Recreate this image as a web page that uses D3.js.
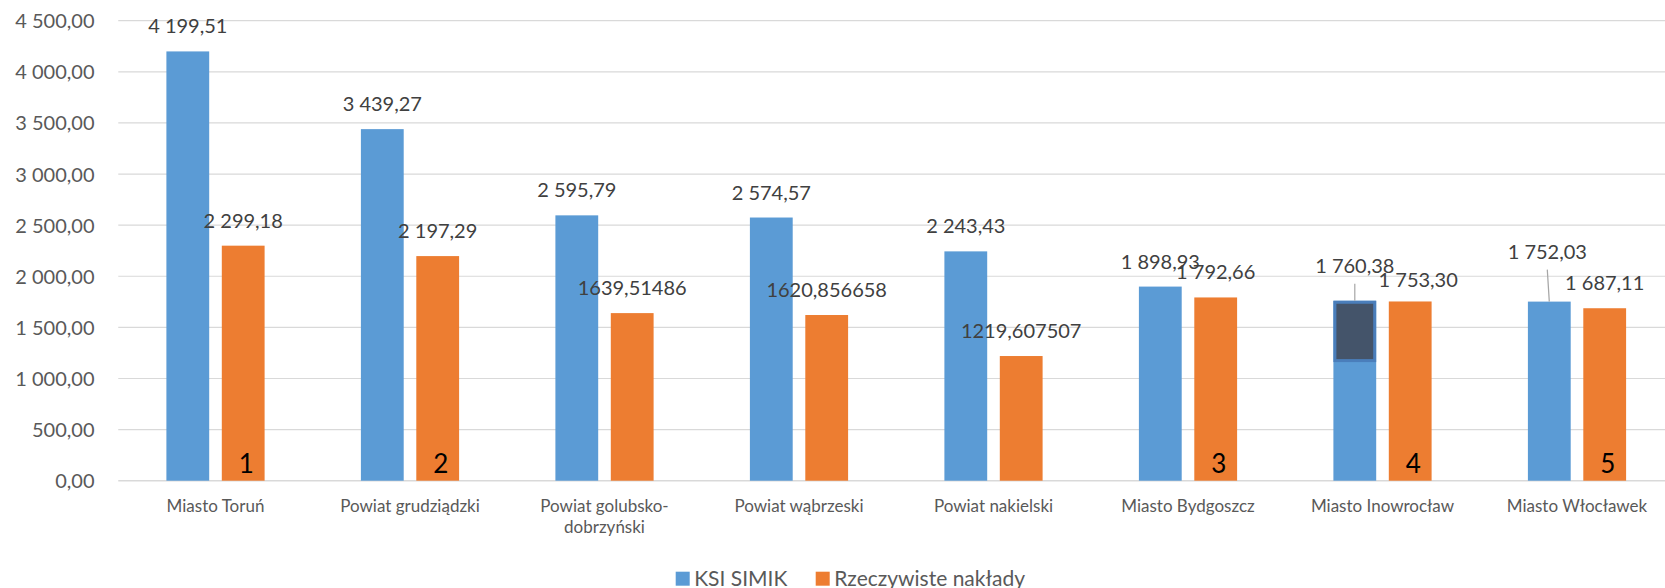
<!DOCTYPE html>
<html>
<head>
<meta charset="utf-8">
<script src="https://cdn.jsdelivr.net/npm/d3@7"></script>
<style>
  html, body { margin: 0; padding: 0; background: #fff; }
  svg { display: block; font-family: Lato, "Open Sans", sans-serif; }
</style>
</head>
<body>
<svg id="chart" width="1665" height="588"></svg>
<script>
// ---- data ----
const categories = ["Miasto Toruń", "Powiat grudziądzki", "Powiat golubsko-dobrzyński", "Powiat wąbrzeski",
  "Powiat nakielski", "Miasto Bydgoszcz", "Miasto Inowrocław", "Miasto Włocławek"];
const seriesNames = ["KSI SIMIK", "Rzeczywiste nakłady"];
const ksiSimik = [4199.51, 3439.27, 2595.79, 2574.57, 2243.43, 1898.93, 1760.38, 1752.03];
const rzeczywisteNaklady = [2299.18, 2197.29, 1639.51486, 1620.856658, 1219.607507, 1792.66, 1753.30, 1687.11];
const rankLabels = ["1", "2", "", "", "", "3", "4", "5"];
const yTicks = [0, 500, 1000, 1500, 2000, 2500, 3000, 3500, 4000, 4500];

// label nudges (layout only): [series index, category index, dx, dy, leader line]
const labelNudges = [
  [0, 6, 0, -10, true],
  [1, 6, 8, 4, false],
  [0, 7, -2, -25, true]
];

// ---- layout ----
const colors = ["#5B9BD5", "#ED7D31"];
const svg = d3.select("#chart");
const plotLeft = 118.25, plotRight = 1674.25, yBottom = 480.7, yTop = 20.7;

const x0 = d3.scaleBand().domain(categories).range([plotLeft, plotRight]).paddingInner(0).paddingOuter(0);
const groupW = 98.2;
const x1 = d3.scaleBand().domain(seriesNames)
  .range([(x0.bandwidth() - groupW) / 2, (x0.bandwidth() + groupW) / 2])
  .paddingInner(0.2275).paddingOuter(0);
const y = d3.scaleLinear().domain([0, 4500]).range([yBottom, yTop]);

const locale = d3.formatLocale({ decimal: ",", thousands: "\u00a0", grouping: [3], currency: ["", ""] });
const fmt2 = locale.format(",.2f");
function labelText(v) {
  const s = String(v);
  const dec = s.includes(".") ? s.split(".")[1].length : 0;
  return dec > 2 ? s.replace(".", ",") : fmt2(v);
}

// gridlines
svg.append("g").selectAll("line").data(yTicks).join("line")
  .attr("x1", plotLeft).attr("x2", 1665)
  .attr("y1", d => y(d)).attr("y2", d => y(d))
  .attr("stroke", "#d9d9d9").attr("stroke-width", d => d === 0 ? 1.6 : 1.2);

// y axis labels
const yAxis = d3.axisLeft(y).tickValues(yTicks).tickSize(0).tickPadding(0).tickFormat(d => fmt2(d));
const yg = svg.append("g").attr("transform", "translate(94.5,0)").call(yAxis);
yg.select(".domain").remove();
yg.selectAll("text").attr("font-size", "20px").attr("fill", "#595959")
  .attr("font-family", "Lato, 'Open Sans', sans-serif").attr("dy", "0.35em");

// x axis labels
const xAxis = d3.axisBottom(x0).tickSize(0).tickPadding(0).tickFormat("");
const xg = svg.append("g").attr("transform", `translate(0,${yBottom})`).call(xAxis);
xg.select(".domain").remove();
xg.selectAll(".tick").each(function(d) {
  const t = d3.select(this).append("text")
    .attr("fill", "#595959").attr("font-size", "17px").attr("text-anchor", "middle")
    .attr("font-family", "Lato, 'Open Sans', sans-serif");
  const parts = d.includes("-") ? [d.slice(0, d.indexOf("-") + 1), d.slice(d.indexOf("-") + 1)] : [d];
  parts.forEach((p, i) => t.append("tspan").attr("x", 0).attr("y", 31 + i * 21.6).text(p));
});

// bars
const rows = categories.map((c, i) => ({ cat: c, vals: [ksiSimik[i], rzeczywisteNaklady[i]], rank: rankLabels[i], i }));
const groups = svg.append("g").selectAll("g").data(rows).join("g")
  .attr("transform", d => `translate(${x0(d.cat)},0)`);

groups.selectAll("rect").data(d => d.vals.map((v, s) => ({ v, s, i: d.i }))).join("rect")
  .attr("x", d => x1(seriesNames[d.s]))
  .attr("width", x1.bandwidth())
  .attr("y", d => y(d.v))
  .attr("height", d => y(0) - y(d.v))
  .attr("fill", d => colors[d.s]);

// annotation box on Inowrocław KSI bar
(function() {
  const ci = 6;
  const bx = x0(categories[ci]) + x1(seriesNames[0]);
  svg.append("rect")
    .attr("x", bx + 1.5).attr("width", x1.bandwidth() - 3)
    .attr("y", y(ksiSimik[ci]) + 1.5).attr("height", y(1175) - y(ksiSimik[ci]) - 1.5)
    .attr("fill", "#44546A").attr("stroke", "#4A7EBB").attr("stroke-width", 3);
})();

// data labels
const labelLayer = svg.append("g");
rows.forEach(r => {
  r.vals.forEach((v, s) => {
    const bxc = x0(r.cat) + x1(seriesNames[s]) + x1.bandwidth() / 2;
    const top = y(v);
    const nudge = labelNudges.find(n => n[0] === s && n[1] === r.i);
    const dx = nudge ? nudge[2] : 0, dy = nudge ? nudge[3] : 0;
    const lx = bxc + dx, ly = top - 18 + dy;
    if (nudge && nudge[4]) {
      labelLayer.append("line")
        .attr("x1", lx).attr("y1", ly + 11).attr("x2", bxc).attr("y2", top)
        .attr("stroke", "#a6a6a6").attr("stroke-width", 1.2);
    }
    labelLayer.append("text")
      .attr("x", lx).attr("y", ly)
      .attr("text-anchor", "middle").attr("font-size", "20px").attr("fill", "#404040")
      .text(labelText(v));
  });
  if (r.rank) {
    const ox = x0(r.cat) + x1(seriesNames[1]) + x1.bandwidth() / 2 + 3;
    labelLayer.append("text")
      .attr("x", ox).attr("y", y(0) - 8)
      .attr("text-anchor", "middle").attr("font-size", "26px").attr("fill", "#000")
      .text(r.rank);
  }
});

// legend
const legend = svg.append("g");
const legendX = [675.7, 815.7];
seriesNames.forEach((n, s) => {
  legend.append("rect").attr("x", legendX[s]).attr("y", 571.7).attr("width", 14).attr("height", 14)
    .attr("fill", colors[s]);
  legend.append("text").attr("x", legendX[s] + 18.5).attr("y", 585.5)
    .attr("font-size", "21px").attr("fill", "#595959").text(n);
});
</script>
</body>
</html>
